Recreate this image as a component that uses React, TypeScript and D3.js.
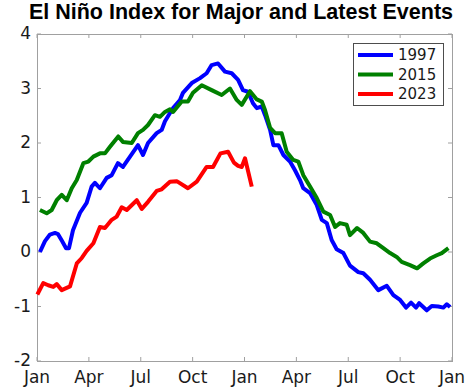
import React from 'react';
import * as d3 from 'd3';

// months since Jan of the onset year
const months1997 = [0.17, 0.46, 0.75, 1.04, 1.21, 1.45, 1.68, 1.85, 2.08, 2.49, 2.87, 3.16, 3.35, 3.64, 4.03, 4.32, 4.68, 4.97, 5.38, 5.84, 6.13, 6.42, 6.92, 7.21, 7.4, 7.69, 7.87, 8.27, 8.44, 8.95, 9.43, 9.81, 10.1, 10.47, 10.87, 11.26, 11.63, 11.91, 12.2, 12.49, 12.71, 13.0, 13.19, 13.48, 13.67, 13.96, 14.25, 14.63, 14.92, 15.21, 15.4, 15.79, 16.18, 16.47, 16.76, 17.04, 17.33, 17.72, 18.1, 18.58, 18.87, 19.26, 19.74, 20.23, 20.61, 21.0, 21.34, 21.63, 21.92, 22.1, 22.54, 22.83, 23.21, 23.5, 23.7, 23.89];
const nino1997 = [0.0, 0.2, 0.32, 0.35, 0.33, 0.2, 0.07, 0.07, 0.4, 0.72, 0.9, 1.2, 1.27, 1.17, 1.36, 1.41, 1.63, 1.56, 1.75, 1.96, 1.78, 2.0, 2.18, 2.24, 2.4, 2.55, 2.64, 2.79, 2.92, 3.1, 3.19, 3.28, 3.43, 3.46, 3.31, 3.28, 3.16, 2.97, 2.94, 2.73, 2.64, 2.67, 2.51, 2.24, 1.96, 1.96, 1.78, 1.66, 1.5, 1.32, 1.17, 1.08, 0.86, 0.59, 0.53, 0.22, 0.05, -0.02, -0.25, -0.37, -0.39, -0.51, -0.7, -0.62, -0.79, -0.88, -1.02, -0.93, -1.02, -0.94, -1.07, -0.99, -1.0, -1.02, -0.96, -1.01];

const months2015 = [0.17, 0.56, 0.85, 1.14, 1.43, 1.72, 2.01, 2.3, 2.68, 2.97, 3.26, 3.64, 3.93, 4.22, 4.7, 4.97, 5.48, 5.84, 6.13, 6.42, 6.82, 7.11, 7.4, 7.69, 7.87, 8.37, 8.73, 9.02, 9.53, 10.1, 10.68, 11.16, 11.55, 11.84, 12.32, 12.71, 13.0, 13.19, 13.48, 13.77, 14.15, 14.44, 14.82, 15.11, 15.4, 15.79, 16.18, 16.56, 16.95, 17.24, 17.52, 17.91, 18.1, 18.51, 18.87, 19.26, 19.65, 20.03, 20.42, 20.8, 21.09, 21.57, 21.98, 22.34, 22.73, 23.12, 23.41, 23.79];
const nino2015 = [0.77, 0.71, 0.77, 0.95, 1.05, 0.95, 1.17, 1.32, 1.63, 1.66, 1.75, 1.81, 1.81, 1.93, 2.12, 2.02, 2.0, 2.18, 2.24, 2.33, 2.51, 2.48, 2.57, 2.62, 2.57, 2.76, 2.76, 2.92, 3.06, 2.97, 2.88, 3.0, 2.79, 2.7, 2.95, 2.8, 2.76, 2.6, 2.28, 2.18, 2.18, 1.84, 1.69, 1.66, 1.41, 1.2, 0.99, 0.74, 0.68, 0.46, 0.53, 0.5, 0.31, 0.44, 0.35, 0.19, 0.16, 0.07, -0.02, -0.09, -0.18, -0.24, -0.3, -0.21, -0.12, -0.06, -0.02, 0.07];

const months2023 = [0.02, 0.36, 0.65, 0.94, 1.14, 1.43, 1.91, 2.3, 2.59, 2.87, 3.26, 3.64, 3.93, 4.32, 4.61, 4.9, 5.19, 5.77, 6.06, 6.42, 6.92, 7.21, 7.69, 8.08, 8.73, 9.24, 9.81, 10.18, 10.61, 11.05, 11.39, 11.63, 11.84, 12.03, 12.42];
const nino2023 = [-0.78, -0.57, -0.61, -0.64, -0.59, -0.7, -0.63, -0.21, -0.11, 0.02, 0.16, 0.46, 0.44, 0.59, 0.65, 0.82, 0.77, 0.95, 0.79, 0.92, 1.12, 1.15, 1.29, 1.3, 1.17, 1.29, 1.56, 1.56, 1.81, 1.84, 1.64, 1.58, 1.56, 1.72, 1.2];

const monthTicks = [0, 3, 6, 9, 12, 15, 18, 21, 24];
const monthLabels = ['Jan', 'Apr', 'Jul', 'Oct', 'Jan', 'Apr', 'Jul', 'Oct', 'Jan'];
const valueTicks = [-2, -1, 0, 1, 2, 3, 4];

const series = [
  { name: '1997', color: '#0000ff', months: months1997, values: nino1997 },
  { name: '2015', color: '#008000', months: months2015, values: nino2015 },
  { name: '2023', color: '#ff0000', months: months2023, values: nino2023 },
];

const W = 474;
const H = 389;
const margin = { top: 34, right: 22, bottom: 28, left: 37 };

export default function App() {
  const ref = React.useRef<SVGSVGElement>(null);

  React.useEffect(() => {
    const svg = d3.select(ref.current);
    svg.selectAll('*').remove();

    const x = d3.scaleLinear().domain([0, 24]).range([margin.left, W - margin.right]);
    const y = d3.scaleLinear().domain([-2, 4]).range([H - margin.bottom, margin.top]);
    const axisColor = '#a0a0a0';
    const font = 'DejaVu Sans, sans-serif';

    svg.append('rect')
      .attr('width', W).attr('height', H).attr('fill', '#fff');

    // ticks on all four sides, pointing inwards
    const tk = svg.append('g').attr('stroke', axisColor);
    monthTicks.forEach(m => {
      tk.append('line').attr('x1', x(m)).attr('x2', x(m))
        .attr('y1', y(-2)).attr('y2', y(-2) - 4);
      tk.append('line').attr('x1', x(m)).attr('x2', x(m))
        .attr('y1', y(4)).attr('y2', y(4) + 4);
    });
    valueTicks.forEach(v => {
      tk.append('line').attr('x1', x(0)).attr('x2', x(0) + 4)
        .attr('y1', y(v)).attr('y2', y(v));
      tk.append('line').attr('x1', x(24)).attr('x2', x(24) - 4)
        .attr('y1', y(v)).attr('y2', y(v));
    });

    svg.append('rect')
      .attr('x', x(0) + 0.5).attr('y', y(4) + 0.5)
      .attr('width', x(24) - x(0)).attr('height', y(-2) - y(4))
      .attr('fill', 'none').attr('stroke', axisColor);

    svg.append('g').selectAll('text')
      .data(monthTicks)
      .enter().append('text')
      .attr('x', d => x(d))
      .attr('y', y(-2) + 22)
      .attr('text-anchor', 'middle')
      .attr('font-family', font).attr('font-size', 17).attr('fill', '#1a1a1a')
      .text((d, i) => monthLabels[i]);

    svg.append('g').selectAll('text')
      .data(valueTicks)
      .enter().append('text')
      .attr('x', x(0) - 6)
      .attr('y', d => y(d))
      .attr('dy', '0.32em')
      .attr('text-anchor', 'end')
      .attr('font-family', font).attr('font-size', 17).attr('fill', '#1a1a1a')
      .text(d => String(d));

    series.forEach(s => {
      const pts = s.months.map((m, i) => [x(m), y(s.values[i])] as [number, number]);
      svg.append('path')
        .attr('d', d3.line()(pts))
        .attr('fill', 'none')
        .attr('stroke', s.color)
        .attr('stroke-width', 4)
        .attr('stroke-linejoin', 'round');
    });

    // legend
    const lg = svg.append('g');
    lg.append('rect')
      .attr('x', 353.5).attr('y', 43.5).attr('width', 90).attr('height', 62)
      .attr('fill', '#fff').attr('stroke', '#4d4d4d');
    series.forEach((s, i) => {
      const ly = 55 + i * 19.5;
      lg.append('line')
        .attr('x1', 358).attr('x2', 393).attr('y1', ly).attr('y2', ly)
        .attr('stroke', s.color).attr('stroke-width', 4);
      lg.append('text')
        .attr('x', 398).attr('y', ly).attr('dy', '0.36em')
        .attr('font-family', font).attr('font-size', 15).attr('fill', '#1a1a1a')
        .text(s.name);
    });

    svg.append('text')
      .attr('x', 241).attr('y', 19)
      .attr('text-anchor', 'middle')
      .attr('font-family', 'Liberation Sans, Arial, sans-serif')
      .attr('font-weight', 'bold').attr('font-size', 21.5)
      .text('El Niño Index for Major and Latest Events');
  }, []);

  return (
    <svg ref={ref} width={W} height={H}
      style={{ position: 'absolute', left: 0, top: 0, display: 'block' }} />
  );
}
